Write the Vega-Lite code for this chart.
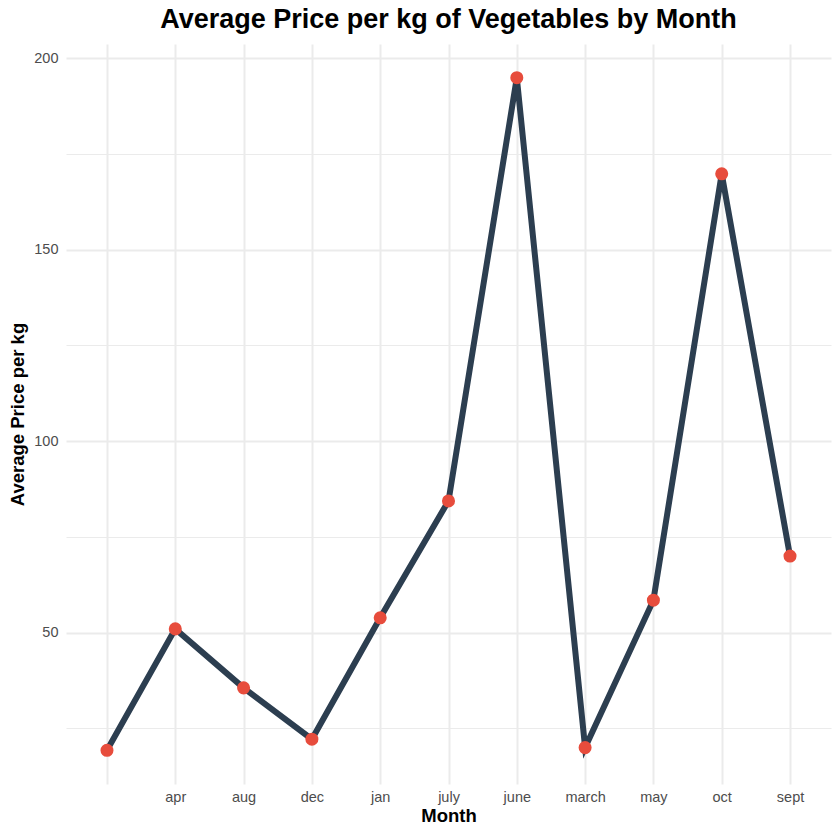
{
  "$schema": "https://vega.github.io/schema/vega-lite/v6.json",
  "width": 765,
  "height": 740,
  "autosize": {"type": "none"},
  "padding": {"left": 66, "top": 44, "right": 9, "bottom": 56},
  "background": "white",
  "config": {
    "view": {"stroke": null},
    "font": "Liberation Sans"
  },
  "title": {
    "text": "Average Price per kg of Vegetables by Month",
    "fontSize": 27,
    "fontWeight": "bold",
    "font": "Liberation Sans",
    "color": "black",
    "anchor": "middle",
    "offset": 10
  },
  "data": {
    "values": [
      {"month": "", "price": 19.3},
      {"month": "apr", "price": 51.0},
      {"month": "aug", "price": 35.6},
      {"month": "dec", "price": 22.2},
      {"month": "jan", "price": 53.9},
      {"month": "july", "price": 84.4},
      {"month": "june", "price": 194.9},
      {"month": "march", "price": 20.0},
      {"month": "may", "price": 58.5},
      {"month": "oct", "price": 169.8},
      {"month": "sept", "price": 70.0}
    ]
  },
  "encoding": {
    "x": {
      "field": "month",
      "type": "ordinal",
      "sort": null,
      "scale": {"type": "point", "padding": 0.6},
      "axis": {
        "title": "Month",
        "titleFontSize": 18.5,
        "titleFontWeight": "bold",
        "titleColor": "black",
        "titlePadding": 3,
        "labelAngle": 0,
        "labelFontSize": 14.5,
        "labelColor": "#4D4D4D",
        "labelPadding": 6,
        "ticks": false,
        "domain": false,
        "grid": true,
        "gridColor": "#EBEBEB",
        "gridWidth": 2
      }
    },
    "y": {
      "field": "price",
      "type": "quantitative",
      "scale": {"domain": [10.5, 203.7], "nice": false, "zero": false},
      "axis": {
        "title": "Average Price per kg",
        "titleFontSize": 18.5,
        "titleFontWeight": "bold",
        "titleColor": "black",
        "titlePadding": 6,
        "values": [25, 50, 75, 100, 125, 150, 175, 200],
        "labelExpr": "datum.value % 50 == 0 ? datum.label : ''",
        "labelFontSize": 14.5,
        "labelColor": "#4D4D4D",
        "labelPadding": 8,
        "ticks": false,
        "domain": false,
        "grid": true,
        "gridColor": "#EBEBEB",
        "gridWidth": {"condition": {"test": "datum.value % 50 == 0", "value": 2}, "value": 1}
      }
    }
  },
  "layer": [
    {"mark": {"type": "line", "color": "#2C3E50", "strokeWidth": 6}},
    {"mark": {"type": "point", "filled": true, "color": "#E74C3C", "opacity": 1, "size": 170}}
  ]
}
